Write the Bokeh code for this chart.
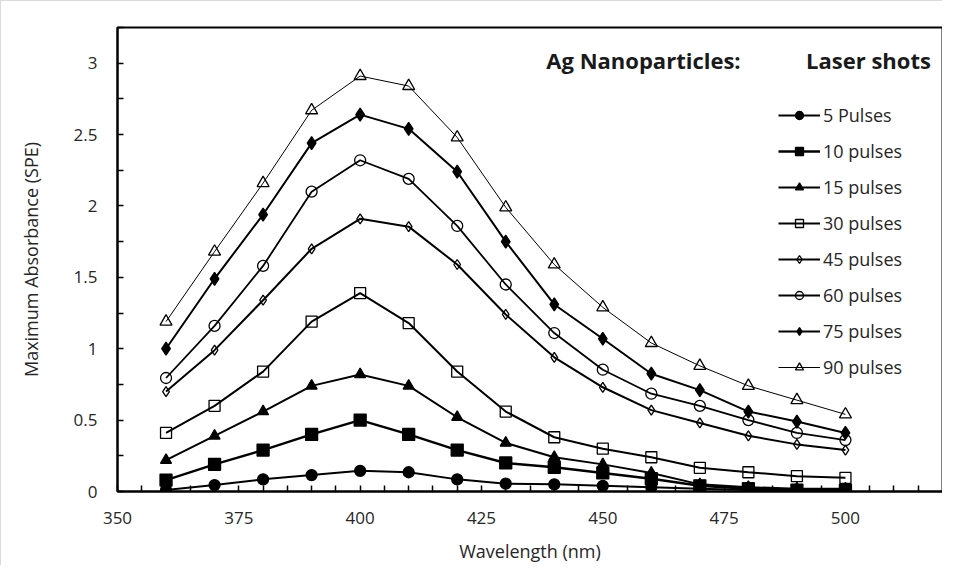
from bokeh.plotting import figure
from bokeh.models import (Range1d, FixedTicker, NumeralTickFormatter, Legend, LegendItem,
                          Label, ColumnDataSource)
from bokeh.embed import file_html
from bokeh.resources import INLINE

# ---------------- data ----------------
wavelength = [360, 370, 380, 390, 400, 410, 420, 430, 440, 450, 460, 470, 480, 490, 500]

p5 = [0.01, 0.045, 0.085, 0.115, 0.145, 0.135, 0.085, 0.055, 0.05, 0.04, 0.03, 0.02, 0.01, 0.01, 0.01]
p10 = [0.08, 0.19, 0.29, 0.40, 0.50, 0.40, 0.29, 0.20, 0.17, 0.13, 0.09, 0.04, 0.02, 0.01, 0.01]
p15 = [0.22, 0.39, 0.56, 0.74, 0.82, 0.74, 0.52, 0.34, 0.24, 0.19, 0.13, 0.05, 0.03, 0.02, 0.02]
p30 = [0.41, 0.60, 0.84, 1.19, 1.39, 1.18, 0.84, 0.56, 0.38, 0.30, 0.24, 0.166, 0.135, 0.107, 0.096]
p45 = [0.70, 0.99, 1.34, 1.70, 1.91, 1.855, 1.59, 1.24, 0.94, 0.73, 0.57, 0.48, 0.39, 0.33, 0.29]
p60 = [0.795, 1.16, 1.58, 2.10, 2.32, 2.19, 1.86, 1.45, 1.11, 0.853, 0.685, 0.60, 0.50, 0.41, 0.36]
p75 = [1.0, 1.49, 1.94, 2.44, 2.64, 2.54, 2.24, 1.75, 1.31, 1.07, 0.825, 0.71, 0.56, 0.49, 0.41]
p90 = [1.19, 1.68, 2.16, 2.67, 2.91, 2.84, 2.48, 1.99, 1.59, 1.29, 1.04, 0.88, 0.74, 0.64, 0.54]

series_labels = ["5 Pulses", "10 pulses", "15 pulses", "30 pulses",
                 "45 pulses", "60 pulses", "75 pulses", "90 pulses"]
series_values = [p5, p10, p15, p30, p45, p60, p75, p90]

x_major_ticks = [350, 375, 400, 425, 450, 475, 500]
x_minor_ticks = [v for v in range(355, 520, 5) if v % 25 != 0]
y_major_ticks = [0, 0.5, 1, 1.5, 2, 2.5, 3]
y_minor_ticks = [0.25, 0.75, 1.25, 1.75, 2.25, 2.75, 3.25]

title_left = "Ag Nanoparticles:"
title_right = "Laser shots"
x_title = "Wavelength (nm)"
y_title = "Maximum Absorbance (SPE)"

# ---------------- styles ----------------
FONT = "Open Sans"
styles = [
    dict(marker="circle", size=11, filled=True, lw=2),
    dict(marker="square", size=12, filled=True, lw=2.5),
    dict(marker="triangle", size=11, filled=True, lw=2),
    dict(marker="square", size=11, filled=False, lw=2),
    dict(marker="diamond", size=10, filled=False, lw=2),
    dict(marker="circle", size=11, filled=False, lw=1.8),
    dict(marker="diamond", size=13, filled=True, lw=2),
    dict(marker="triangle", size=12, filled=False, lw=1),
]

p = figure(width=942, height=565, output_backend="svg", toolbar_location=None,
           x_range=Range1d(350, 520), y_range=Range1d(0, 3.25),
           min_border_left=116, min_border_right=1, min_border_top=26, min_border_bottom=75)
p.styles = {"border-left": "1px solid #d9d9d9", "border-top": "1px solid #d9d9d9"}

p.xgrid.visible = False
p.ygrid.visible = False
p.outline_line_color = "black"
p.outline_line_width = 2
p.background_fill_color = "white"
p.border_fill_color = "white"

# axes
xa = p.xaxis[0]
xa.ticker = FixedTicker(ticks=x_major_ticks, minor_ticks=x_minor_ticks)
ya = p.yaxis[0]
ya.ticker = FixedTicker(ticks=y_major_ticks, minor_ticks=y_minor_ticks)
ya.formatter = NumeralTickFormatter(format="0.[0]")
for ax in (xa, ya):
    ax.axis_line_color = "black"
    ax.axis_line_width = 2
    ax.major_tick_in = 6
    ax.major_tick_out = 0
    ax.minor_tick_in = 6
    ax.minor_tick_out = 0
    ax.major_tick_line_color = "black"
    ax.minor_tick_line_color = "black"
    ax.major_tick_line_width = 1.5
    ax.minor_tick_line_width = 1.5
    ax.major_label_text_font = FONT
    ax.major_label_text_font_size = "17px"
    ax.major_label_text_color = "#262626"
    ax.axis_label_text_font = FONT
    ax.axis_label_text_font_size = "18px"
    ax.axis_label_text_font_style = "normal"
    ax.axis_label_text_color = "#262626"
xa.axis_label = x_title
ya.axis_label = y_title
xa.major_label_standoff = 20
xa.axis_label_standoff = 12
ya.major_label_standoff = 20
ya.axis_label_standoff = 28

src = ColumnDataSource(dict(x=wavelength, **{f"s{i}": v for i, v in enumerate(series_values)}))

items = []
for i, (lab, st) in enumerate(zip(series_labels, styles)):
    col = f"s{i}"
    lr = p.line(x="x", y=col, source=src, line_color="black", line_width=st["lw"])
    sr = p.scatter(x="x", y=col, source=src, marker=st["marker"], size=st["size"],
                   line_color="black", line_width=1.3,
                   fill_color="black" if st["filled"] else "white",
                   fill_alpha=1.0 if st["filled"] else 0.0)
    items.append(LegendItem(label=lab, renderers=[lr, sr]))

legend = Legend(items=items, location=(661, 112), orientation="vertical",
                padding=0, margin=0, spacing=12, glyph_width=42, glyph_height=20,
                label_height=20, label_standoff=3,
                label_text_font=FONT, label_text_font_size="18px", label_text_color="#262626",
                border_line_color=None, background_fill_alpha=0)
p.add_layout(legend, "center")

p.add_layout(Label(x=526, y=432, x_units="screen", y_units="screen", text=title_left,
                   text_font=FONT, text_font_size="22px", text_font_style="bold",
                   text_align="center", text_baseline="middle", text_color="#1a1a1a"))
p.add_layout(Label(x=751, y=432, x_units="screen", y_units="screen", text=title_right,
                   text_font=FONT, text_font_size="22px", text_font_style="bold",
                   text_align="center", text_baseline="middle", text_color="#1a1a1a"))

open("out.html", "w").write(file_html(p, INLINE))
